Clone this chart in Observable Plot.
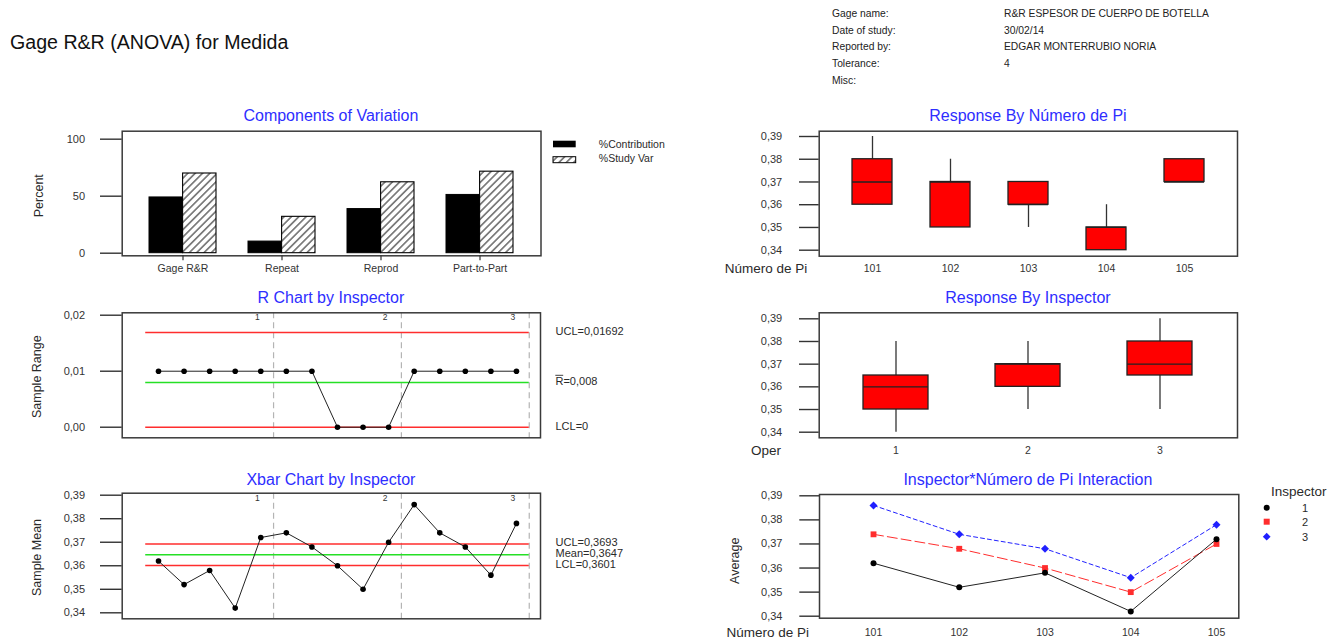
<!DOCTYPE html>
<html>
<head>
<meta charset="utf-8">
<script src="https://cdn.jsdelivr.net/npm/d3@7"></script>
<script src="https://cdn.jsdelivr.net/npm/@observablehq/plot@0.6"></script>
<style>
html, body { margin: 0; padding: 0; background: #fff; }
#page { position: relative; width: 1343px; height: 639px; overflow: hidden; background: #fff; }
.panel { position: absolute; }
.panel svg { display: block; overflow: visible; }
</style>
</head>
<body>
<svg width="0" height="0" style="position:absolute">
  <defs>
    <pattern id="hatch" patternUnits="userSpaceOnUse" width="5.2" height="5.2" patternTransform="rotate(45)">
      <rect width="5.2" height="5.2" fill="#fff"></rect>
      <line x1="2.6" y1="0" x2="2.6" y2="5.2" stroke="#000" stroke-width="0.9"></line>
    </pattern>
  </defs>
</svg>
<div id="page"></div>
<script>
// ---------------- DATA ----------------
const headerTitle = "Gage R&R (ANOVA) for Medida";
const infoLabels = ["Gage name:", "Date of study:", "Reported by:", "Tolerance:", "Misc:"];
const infoValues = ["R&R ESPESOR DE CUERPO DE BOTELLA", "30/02/14", "EDGAR MONTERRUBIO NORIA", "4", ""];

// Components of Variation
const components = ["Gage R&R", "Repeat", "Reprod", "Part-to-Part"];
const pctContribution = [48.9, 10.2, 38.7, 51.1];
const pctStudyVar = [69.9, 31.9, 62.2, 71.5];
const pctTicks = [0, 50, 100];

// R / Xbar charts by inspector
const subgroup = [1, 2, 3, 4, 5, 6, 7, 8, 9, 10, 11, 12, 13, 14, 15];
const subgroupInspector = [1, 1, 1, 1, 1, 2, 2, 2, 2, 2, 3, 3, 3, 3, 3];
const sampleRange = [0.01, 0.01, 0.01, 0.01, 0.01, 0.01, 0.01, 0, 0, 0, 0.01, 0.01, 0.01, 0.01, 0.01];
const sampleMean = [0.362, 0.352, 0.358, 0.342, 0.372, 0.374, 0.368, 0.360, 0.350, 0.370, 0.386, 0.374, 0.368, 0.356, 0.378];
const rLimitValues = [0.01692, 0.008, 0];
const rLimitLabels = ["UCL=0,01692", "R=0,008", "LCL=0"];
const xLimitValues = [0.3693, 0.3647, 0.3601];
const xLimitLabels = ["UCL=0,3693", "Mean=0,3647", "LCL=0,3601"];
const rangeTicks = [0, 0.01, 0.02];
const meanTicks = [0.34, 0.35, 0.36, 0.37, 0.38, 0.39];

// Response by Número de Pi (box summaries)
const partLabels = ["101", "102", "103", "104", "105"];
const partQ1 = [0.36, 0.35, 0.36, 0.34, 0.37];
const partMedian = [0.37, 0.37, 0.36, 0.35, 0.37];
const partQ3 = [0.38, 0.37, 0.37, 0.35, 0.38];
const partWhiskerLow = [0.36, 0.35, 0.35, 0.34, 0.37];
const partWhiskerHigh = [0.39, 0.38, 0.37, 0.36, 0.38];

// Response by Inspector (box summaries)
const inspectorLabels = ["1", "2", "3"];
const inspQ1 = [0.35, 0.36, 0.365];
const inspMedian = [0.36, 0.37, 0.37];
const inspQ3 = [0.365, 0.37, 0.38];
const inspWhiskerLow = [0.34, 0.35, 0.35];
const inspWhiskerHigh = [0.38, 0.38, 0.39];

// Interaction
const partNumbers = [101, 102, 103, 104, 105];
const insp1PartAvg = [0.362, 0.352, 0.358, 0.342, 0.372];
const insp2PartAvg = [0.374, 0.368, 0.360, 0.350, 0.370];
const insp3PartAvg = [0.386, 0.374, 0.368, 0.356, 0.378];

// ---------------- STYLE ----------------
const FONT = '"Liberation Sans", Arial, Helvetica, sans-serif';
const TXT = "#2a2a2a";
const FRAME = "#3a3a3a";
const TITLE = "#2e2eff";
const RED = "#ff2d2d";
const GREEN = "#25e025";
const baseStyle = {fontFamily: FONT, fontSize: "11px", color: TXT, background: "transparent", overflow: "visible"};
const comma2 = d => d.toFixed(2).replace(".", ",");

const page = document.getElementById("page");
function place(el, left, top) {
  const d = document.createElement("div");
  d.className = "panel";
  d.style.left = left + "px";
  d.style.top = top + "px";
  d.appendChild(el);
  page.appendChild(d);
  return el;
}
function addText(svg, x, y, str, o = {}) {
  const t = d3.select(svg).append("text")
    .attr("x", x).attr("y", y)
    .attr("font-family", FONT)
    .attr("font-size", o.size ?? 11)
    .attr("fill", o.fill ?? TXT)
    .attr("text-anchor", o.anchor ?? "start")
    .text(str);
  if (o.rotate) t.attr("transform", `rotate(${o.rotate},${x},${y})`);
  return t;
}

// ---------------- HEADER ----------------
const header = d3.create("svg").attr("width", 1343).attr("height", 100).node();
addText(header, 10, 49, headerTitle, {size: 19.6, fill: "#111"});
const infoY = [16.7, 33.7, 50.2, 66.9, 84.2];
infoLabels.forEach((l, i) => {
  addText(header, 832, infoY[i], l, {size: 10.3, fill: "#222"});
  addText(header, 1004, infoY[i], infoValues[i], {size: 10.3, fill: "#222"});
});
place(header, 0, 0);

// ---------------- PANEL A: Components of Variation ----------------
const compRows = components.map((c, i) => ({cat: c, contrib: pctContribution[i], study: pctStudyVar[i]}));
const pA = Plot.plot({
  width: 700, height: 180,
  marginLeft: 121.7, marginRight: 159.5, marginTop: 30.7, marginBottom: 24.7,
  style: baseStyle,
  x: {domain: components, paddingInner: 0.3226, paddingOuter: 0.272, align: 0.5, label: null},
  y: {domain: [-2.28, 107], label: null},
  marks: [
    Plot.barY(compRows, {x: "cat", y1: 0, y2: "contrib", fill: "#000", stroke: "#000", strokeWidth: 1, insetRight: 33.6}),
    Plot.barY(compRows, {x: "cat", y1: 0, y2: "study", fill: "url(#hatch)", stroke: "#000", strokeWidth: 1.1, insetLeft: 33.6}),
    Plot.frame({stroke: FRAME, strokeWidth: 1.5}),
    Plot.axisY({ticks: pctTicks, tickSize: 21.7, tickPadding: 15.4, fontSize: 11, color: "#333", strokeWidth: 1.4, label: null}),
    Plot.axisX({tickSize: 5, tickPadding: 4, fontSize: 10.5, color: "#333", strokeWidth: 1.2, label: null})
  ]
});
addText(pA, 330.9, 21.4, "Components of Variation", {size: 16, fill: TITLE, anchor: "middle"});
addText(pA, 43.4, 95.7, "Percent", {size: 12.5, anchor: "middle", rotate: -90});
d3.select(pA).append("rect").attr("x", 553).attr("y", 40.7).attr("width", 22.7).attr("height", 6.6).attr("fill", "#000");
d3.select(pA).append("rect").attr("x", 553).attr("y", 56.7).attr("width", 22.7).attr("height", 6).attr("fill", "url(#hatch)").attr("stroke", "#000").attr("stroke-width", 1);
addText(pA, 598.8, 47.6, "%Contribution", {size: 10.5});
addText(pA, 598.8, 62.2, "%Study Var", {size: 10.5});
place(pA, 0, 100);

// ---------------- shared for control charts ----------------
const subRows = subgroup.map((s, i) => ({s, insp: subgroupInspector[i], r: sampleRange[i], m: sampleMean[i]}));
const inspIds = [...new Set(subgroupInspector)];
const boundaries = inspIds.map(k => d3.max(subRows.filter(d => d.insp === k), d => d.s) + 0.5);
const inspTagRows = inspIds.map(k => ({x: d3.max(subRows.filter(d => d.insp === k), d => d.s), t: String(k)}));
const xStart = d3.min(subgroup) - 0.5, xEnd = d3.max(subgroup) + 0.5;
const rLimits = rLimitValues.map((v, i) => ({v, label: rLimitLabels[i]}));
const xLimits = xLimitValues.map((v, i) => ({v, label: xLimitLabels[i]}));

function controlMarks(limits, valueKey, ticks, tagDy) {
  return [
    Plot.ruleX(boundaries, {stroke: "#b4b4b4", strokeDasharray: "6,4", strokeWidth: 1.2}),
    Plot.ruleY([limits[0], limits[2]], {y: "v", x1: xStart, x2: xEnd, stroke: RED, strokeWidth: 1.5}),
    Plot.ruleY([limits[1]], {y: "v", x1: xStart, x2: xEnd, stroke: GREEN, strokeWidth: 1.5}),
    Plot.line(subRows, {x: "s", y: valueKey, stroke: "#222", strokeWidth: 1}),
    Plot.dot(subRows, {x: "s", y: valueKey, r: 2.8, fill: "#000"}),
    Plot.text(inspTagRows, {x: "x", text: "t", frameAnchor: "top", dx: -3.5, dy: tagDy, lineAnchor: "middle", fontSize: 8.5, fill: "#333"}),
    Plot.text(limits, {y: "v", text: "label", frameAnchor: "right", dx: 15, dy: -1, textAnchor: "start", lineAnchor: "middle", fontSize: 11, fill: TXT}),
    Plot.frame({stroke: FRAME, strokeWidth: 1.5}),
    Plot.axisY({ticks, tickFormat: comma2, tickSize: 21.7, tickPadding: 15.4, fontSize: 11, color: "#333", strokeWidth: 1.4, label: null})
  ];
}

// ---------------- PANEL B: R Chart ----------------
const pB = Plot.plot({
  width: 700, height: 180,
  marginLeft: 121.7, marginRight: 160, marginTop: 32.3, marginBottom: 22.7,
  style: baseStyle,
  x: {domain: [-0.42, 15.94], axis: null},
  y: {domain: [-0.00189, 0.02043], label: null},
  marks: controlMarks(rLimits, "r", rangeTicks, 4)
});
addText(pB, 330.9, 23, "R Chart by Inspector", {size: 16, fill: TITLE, anchor: "middle"});
addText(pB, 41.2, 96.7, "Sample Range", {size: 12.5, anchor: "middle", rotate: -90});
// overline on the "R" of the R-bar label
{
  const yb = pB.scale("y").apply(rLimitValues[1]) - 1;
  d3.select(pB).append("line")
    .attr("x1", 555.3).attr("x2", 563.2)
    .attr("y1", yb - 5.6).attr("y2", yb - 5.6)
    .attr("stroke", TXT).attr("stroke-width", 0.9);
}
place(pB, 0, 280);

// ---------------- PANEL C: Xbar Chart ----------------
const pC = Plot.plot({
  width: 700, height: 179,
  marginLeft: 121.7, marginRight: 160, marginTop: 32.7, marginBottom: 20.7,
  style: baseStyle,
  x: {domain: [-0.42, 15.94], axis: null},
  y: {domain: [0.33745, 0.39085], label: null},
  marks: controlMarks(xLimits, "m", meanTicks, 4.6)
});
addText(pC, 330.9, 24.7, "Xbar Chart by Inspector", {size: 16, fill: TITLE, anchor: "middle"});
addText(pC, 41.2, 97.5, "Sample Mean", {size: 12.5, anchor: "middle", rotate: -90});
place(pC, 0, 460);

// ---------------- box plot helper ----------------
function boxMarks(rows) {
  return [
    Plot.ruleX(rows, {x: "k", y1: "lo", y2: "hi", stroke: "#333", strokeWidth: 1.3}),
    Plot.barY(rows, {x: "k", y1: "q1", y2: "q3", fill: "#ff0000", stroke: "#222", strokeWidth: 1.3}),
    Plot.tickY(rows, {x: "k", y: "med", stroke: "#222", strokeWidth: 1.3}),
    Plot.frame({stroke: FRAME, strokeWidth: 1.5}),
    Plot.axisY({ticks: meanTicks, tickFormat: comma2, tickSize: 19.7, tickPadding: 17.3, fontSize: 11, color: "#333", strokeWidth: 1.4, label: null})
  ];
}

// ---------------- PANEL D: Response By Número de Pi ----------------
const partRows = partLabels.map((k, i) => ({k, q1: partQ1[i], med: partMedian[i], q3: partQ3[i], lo: partWhiskerLow[i], hi: partWhiskerHigh[i]}));
const pD = Plot.plot({
  width: 643, height: 180,
  marginLeft: 118.7, marginRight: 106, marginTop: 30.7, marginBottom: 24.3,
  style: baseStyle,
  x: {domain: partLabels, paddingInner: 0.487, paddingOuter: 0.394, align: 0.5, label: null},
  y: {domain: [0.33736, 0.39233], label: null},
  marks: [
    ...boxMarks(partRows),
    Plot.axisX({tickSize: 0, tickPadding: 8.2, fontSize: 10.5, color: "#333", label: null})
  ]
});
addText(pD, 327.9, 21.4, "Response By Número de Pi", {size: 16, fill: TITLE, anchor: "middle"});
addText(pD, 107.2, 172.5, "Número de Pi", {size: 13.5, anchor: "end"});
place(pD, 700, 100);

// ---------------- PANEL E: Response By Inspector ----------------
const inspRows = inspectorLabels.map((k, i) => ({k, q1: inspQ1[i], med: inspMedian[i], q3: inspQ3[i], lo: inspWhiskerLow[i], hi: inspWhiskerHigh[i]}));
const pE = Plot.plot({
  width: 643, height: 180,
  marginLeft: 118.7, marginRight: 106, marginTop: 32.3, marginBottom: 22.7,
  style: baseStyle,
  x: {domain: inspectorLabels, paddingInner: 0.5045, paddingOuter: 0.334, align: 0.5, label: null},
  y: {domain: [0.33753, 0.39265], label: null},
  marks: [
    ...boxMarks(inspRows),
    Plot.axisX({tickSize: 0, tickPadding: 9, fontSize: 10.5, color: "#333", label: null})
  ]
});
addText(pE, 327.9, 23, "Response By Inspector", {size: 16, fill: TITLE, anchor: "middle"});
addText(pE, 81, 174.8, "Oper", {size: 13.5, anchor: "end"});
place(pE, 700, 280);

// ---------------- PANEL F: Interaction ----------------
const rows1 = partNumbers.map((p, i) => ({p, v: insp1PartAvg[i]}));
const rows2 = partNumbers.map((p, i) => ({p, v: insp2PartAvg[i]}));
const rows3 = partNumbers.map((p, i) => ({p, v: insp3PartAvg[i]}));
const BLUE = "#2020ff";
const pF = Plot.plot({
  width: 643, height: 179,
  marginLeft: 119, marginRight: 104.7, marginTop: 34, marginBottom: 21.3,
  style: baseStyle,
  x: {domain: [100.37, 105.26], label: null},
  y: {domain: [0.33917, 0.39054], label: null},
  marks: [
    Plot.line(rows3, {x: "p", y: "v", stroke: BLUE, strokeWidth: 1, strokeDasharray: "4,3"}),
    Plot.dot(rows3, {x: "p", y: "v", symbol: "diamond2", r: 3.6, fill: BLUE, stroke: "none"}),
    Plot.line(rows2, {x: "p", y: "v", stroke: RED, strokeWidth: 1, strokeDasharray: "10,4"}),
    Plot.dot(rows2, {x: "p", y: "v", symbol: "square", r: 3.3, fill: RED, stroke: "none"}),
    Plot.line(rows1, {x: "p", y: "v", stroke: "#222", strokeWidth: 1}),
    Plot.dot(rows1, {x: "p", y: "v", symbol: "circle", r: 3, fill: "#000", stroke: "none"}),
    Plot.frame({stroke: FRAME, strokeWidth: 1.5}),
    Plot.axisY({ticks: meanTicks, tickFormat: comma2, tickSize: 19.7, tickPadding: 17.3, fontSize: 11, color: "#333", strokeWidth: 1.4, label: null}),
    Plot.axisX({ticks: partNumbers, tickFormat: d => String(d), tickSize: 0, tickPadding: 10.8, fontSize: 10.5, color: "#333", label: null})
  ]
});
addText(pF, 327.9, 24.7, "Inspector*Número de Pi Interaction", {size: 16, fill: TITLE, anchor: "middle"});
addText(pF, 109, 177.1, "Número de Pi", {size: 13.5, anchor: "end"});
addText(pF, 38.6, 100.7, "Average", {size: 12.5, anchor: "middle", rotate: -90});
// legend
addText(pF, 571, 35.5, "Inspector", {size: 13.5});
const legSym = [d3.symbolCircle, d3.symbolSquare, d3.symbolSquare];
const legCol = ["#000", RED, BLUE];
const legSize = [Math.PI * 9, 36, 30];
const legY = [47.7, 61.7, 76.7];
inspectorLabels.forEach((k, i) => {
  d3.select(pF).append("path")
    .attr("d", d3.symbol(legSym[i], legSize[i])())
    .attr("fill", legCol[i])
    .attr("transform", `translate(566.7,${legY[i]})` + (i === 2 ? " rotate(45)" : ""));
  addText(pF, 605, legY[i] + 3.9, k, {size: 11, anchor: "middle"});
});
place(pF, 700, 460);
</script>
</body>
</html>
